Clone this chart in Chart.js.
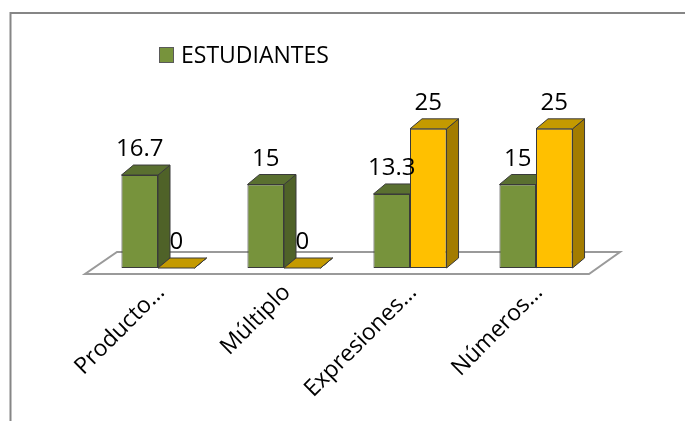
<!DOCTYPE html>
<html>
<head>
<meta charset="utf-8">
<script src="https://cdn.jsdelivr.net/npm/chart.js@4.4.1/dist/chart.umd.min.js"></script>
<style>
    html, body { margin: 0; padding: 0; background: #fff; }
    #wrap { width: 685px; height: 421px; }
</style>
</head>
<body>
<div id="wrap"><canvas id="chart" width="685" height="421"></canvas></div>
<script>
const categories = ['Producto…', 'Múltiplo', 'Expresiones…', 'Números…'];
const estudiantes = [16.7, 15, 13.3, 15];
const segundaSerie = [0, 0, 25, 25];
const yMax = 30;

const FONT = '"Open Sans", "Liberation Sans", sans-serif';
const DEPTH_X = 12;
const DEPTH_Y = -10;

// darker faces for the fake 3D look
const faceColors = [
    { top: '#5A7030', side: '#4F6228' },
    { top: '#C49A00', side: '#A37C00' },
];

function poly(ctx, pts, fill) {
    ctx.beginPath();
    ctx.moveTo(pts[0][0], pts[0][1]);
    for (let i = 1; i < pts.length; i++) ctx.lineTo(pts[i][0], pts[i][1]);
    ctx.closePath();
    ctx.fillStyle = fill;
    ctx.fill();
    ctx.strokeStyle = '#3a3a3a';
    ctx.lineWidth = 1;
    ctx.stroke();
}

const framePlugin = {
    id: 'frame',
    beforeDraw(chart) {
        const ctx = chart.ctx;
        ctx.save();
        ctx.strokeStyle = '#868686';
        ctx.lineWidth = 2;
        ctx.beginPath();
        ctx.moveTo(10.5, chart.height);
        ctx.lineTo(10.5, 13);
        ctx.lineTo(chart.width, 13);
        ctx.stroke();
        ctx.restore();
    },
};

const bar3dPlugin = {
    id: 'bar3d',
    beforeDatasetsDraw(chart) {
        const ctx = chart.ctx;
        const area = chart.chartArea;
        ctx.save();
        // floor
        ctx.beginPath();
        ctx.moveTo(area.left - 10, area.bottom + 6);
        ctx.lineTo(area.right - 10, area.bottom + 6);
        ctx.lineTo(area.right + 21, area.bottom - 16);
        ctx.lineTo(area.left + 22, area.bottom - 16);
        ctx.closePath();
        ctx.fillStyle = '#fff';
        ctx.fill();
        ctx.strokeStyle = '#9a9a9a';
        ctx.lineWidth = 2;
        ctx.stroke();

        const n = chart.data.labels.length;
        for (let i = 0; i < n; i++) {
            chart.data.datasets.forEach((ds, d) => {
                const el = chart.getDatasetMeta(d).data[i];
                const { x, y, base, width } = el.getProps(['x', 'y', 'base', 'width'], true);
                const l = x - width / 2;
                const r = x + width / 2;
                poly(ctx, [[r, y], [r + DEPTH_X, y + DEPTH_Y], [r + DEPTH_X, base + DEPTH_Y], [r, base]], faceColors[d].side);
                poly(ctx, [[l, y], [r, y], [r + DEPTH_X, y + DEPTH_Y], [l + DEPTH_X, y + DEPTH_Y]], faceColors[d].top);
            });
        }
        ctx.restore();
    },
    afterDatasetsDraw(chart) {
        const ctx = chart.ctx;
        ctx.save();
        ctx.font = '24px ' + FONT;
        ctx.fillStyle = '#000';
        ctx.textAlign = 'center';
        ctx.textBaseline = 'alphabetic';
        chart.data.datasets.forEach((ds, d) => {
            chart.getDatasetMeta(d).data.forEach((el, i) => {
                ctx.fillText(String(ds.data[i]), el.x, el.y - 19);
            });
        });
        ctx.restore();
    },
};

const legendPlugin = {
    id: 'fixedLegend',
    afterDraw(chart) {
        const ds = chart.data.datasets[0];
        const ctx = chart.ctx;
        ctx.save();
        ctx.fillStyle = ds.backgroundColor;
        ctx.fillRect(159, 47, 15, 16);
        ctx.strokeStyle = '#5a5a5a';
        ctx.lineWidth = 1;
        ctx.strokeRect(159.5, 47.5, 14, 15);
        ctx.font = '23px ' + FONT;
        ctx.fillStyle = '#000';
        ctx.textBaseline = 'middle';
        ctx.fillText(ds.label, 181, 56);
        ctx.restore();
    },
};

new Chart(document.getElementById('chart'), {
    type: 'bar',
    data: {
        labels: categories,
        datasets: [
            {
                label: 'ESTUDIANTES',
                data: estudiantes,
                backgroundColor: '#77933C',
                borderColor: '#3a3a3a',
                borderWidth: 1,
                borderSkipped: false,
            },
            {
                label: '',
                data: segundaSerie,
                backgroundColor: '#FFC000',
                borderColor: '#3a3a3a',
                borderWidth: 1,
                borderSkipped: false,
            },
        ],
    },
    options: {
        responsive: false,
        animation: false,
        devicePixelRatio: 1,
        categoryPercentage: 0.58,
        barPercentage: 1,
        layout: { padding: { left: 95, right: 86, top: 101, bottom: 0 } },
        plugins: {
            legend: { display: false },
            tooltip: { enabled: false },
        },
        scales: {
            x: {
                grid: { display: false },
                border: { display: false },
                ticks: {
                    color: '#000',
                    font: { size: 23, family: FONT },
                    minRotation: 45,
                    maxRotation: 45,
                    autoSkip: false,
                    padding: 3,
                    labelOffset: 3,
                },
                afterFit: (scale) => { scale.height = 153; },
            },
            y: {
                display: false,
                min: 0,
                max: yMax,
            },
        },
    },
    plugins: [framePlugin, bar3dPlugin, legendPlugin],
});
</script>
</body>
</html>
